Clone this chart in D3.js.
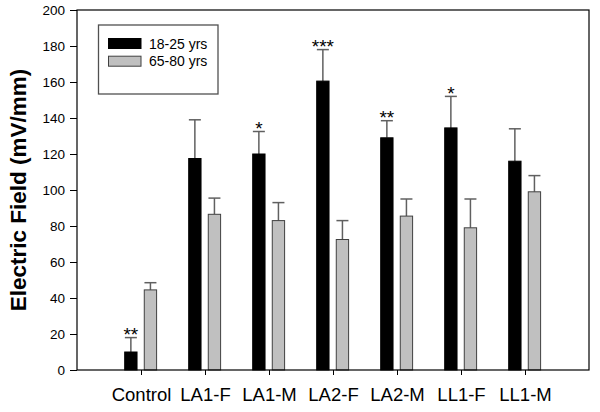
<!DOCTYPE html>
<html>
<head>
<meta charset="utf-8">
<script src="https://cdn.jsdelivr.net/npm/d3@7"></script>
<style>
    body { margin: 0; background: #fff; }
    svg text { font-family: Arial, "Liberation Sans", sans-serif; }
</style>
</head>
<body>
<svg id="chart" width="600" height="412"></svg>
<script>
var categories = ["Control", "LA1-F", "LA1-M", "LA2-F", "LA2-M", "LL1-F", "LL1-M"];
var seriesNames = ["18-25 yrs", "65-80 yrs"];
var young = [10, 117.5, 120, 160.5, 129, 134.5, 116];
var youngErr = [8, 21.5, 12.5, 17.5, 9.5, 17.5, 18];
var old = [44.5, 86.5, 83, 72.5, 85.5, 79, 99];
var oldErr = [4, 9, 10, 10.5, 9.5, 16, 9];
var stars = ["**", "", "*", "***", "**", "*", ""];
var yTicks = [0, 20, 40, 60, 80, 100, 120, 140, 160, 180, 200];

function drawChart() {
    var svg = d3.select("#chart"),
        margins = { top: 10, right: 11, bottom: 42, left: 77 },
        width = 600, height = 412,
        xRange = d3.scalePoint().domain(categories)
            .range([margins.left, width - margins.right]).padding(1),
        sub = d3.scaleBand().domain([0, 1]).range([-16.3, 15.6]).paddingInner(0.37),
        yRange = d3.scaleLinear().domain([0, 200])
            .range([height - margins.bottom, margins.top]),
        fills = ["#000000", "#c0c0c0"],
        strokes = ["#000000", "#404040"];

    var rows = [];
    categories.forEach(function (c, i) {
        rows.push({ cat: c, s: 0, v: young[i], e: youngErr[i] });
        rows.push({ cat: c, s: 1, v: old[i], e: oldErr[i] });
    });

    // error bars first, behind the bars
    var err = svg.append("g").attr("stroke", "#606060").attr("stroke-width", 1.5);
    rows.forEach(function (d) {
        var cx = xRange(d.cat) + sub(d.s) + sub.bandwidth() / 2;
        err.append("line").attr("x1", cx).attr("x2", cx)
            .attr("y1", yRange(d.v)).attr("y2", yRange(d.v + d.e));
        err.append("line").attr("x1", cx - 6).attr("x2", cx + 6)
            .attr("y1", yRange(d.v + d.e)).attr("y2", yRange(d.v + d.e));
    });

    svg.append("g").selectAll("rect").data(rows).enter().append("rect")
        .attr("x", function (d) { return xRange(d.cat) + sub(d.s); })
        .attr("width", sub.bandwidth())
        .attr("y", function (d) { return yRange(d.v); })
        .attr("height", function (d) { return yRange(0) - yRange(d.v); })
        .attr("fill", function (d) { return fills[d.s]; })
        .attr("stroke", function (d) { return strokes[d.s]; })
        .attr("stroke-width", 1);

    svg.append("g").selectAll("text").data(categories).enter().append("text")
        .attr("x", function (d) { return xRange(d) + sub(0) + sub.bandwidth() / 2; })
        .attr("y", function (d, i) { return yRange(young[i] + youngErr[i]) + 3.5; })
        .attr("text-anchor", "middle")
        .style("font-size", "19px")
        .text(function (d, i) { return stars[i]; });

    // frame
    svg.append("rect")
        .attr("x", margins.left).attr("y", margins.top)
        .attr("width", width - margins.right - margins.left)
        .attr("height", height - margins.bottom - margins.top)
        .attr("fill", "none").attr("stroke", "#000").attr("stroke-width", 1.2);

    var yAxis = d3.axisLeft(yRange).tickValues(yTicks).tickSize(7).tickPadding(5);
    var gy = svg.append("g")
        .attr("transform", "translate(" + margins.left + ",0)")
        .call(yAxis);
    gy.select(".domain").remove();
    gy.selectAll("text").style("font-size", "13.5px").attr("fill", "#000");

    var xAxis = d3.axisBottom(xRange).tickSize(5).tickPadding(13);
    var gx = svg.append("g")
        .attr("transform", "translate(0," + (height - margins.bottom) + ")")
        .call(xAxis);
    gx.select(".domain").remove();
    gx.selectAll("text").style("font-size", "18.5px").attr("fill", "#000");

    svg.append("text")
        .attr("transform", "translate(26," + ((margins.top + height - margins.bottom) / 2) + ") rotate(-90)")
        .attr("text-anchor", "middle")
        .style("font-size", "22.5px")
        .style("font-weight", "bold")
        .text("Electric Field (mV/mm)");

    // legend
    var lg = svg.append("g");
    lg.append("rect").attr("x", 98.5).attr("y", 25).attr("width", 119.5).attr("height", 69)
        .attr("fill", "#fff").attr("stroke", "#505050").attr("stroke-width", 1.3);
    seriesNames.forEach(function (n, i) {
        lg.append("rect").attr("x", 108.5).attr("y", 38.5 + i * 17.7)
            .attr("width", 32.5).attr("height", 10)
            .attr("fill", fills[i]).attr("stroke", strokes[i]);
        lg.append("text").attr("x", 149).attr("y", 48.5 + i * 17.7)
            .style("font-size", "14px").text(n);
    });
}

drawChart();
</script>
</body>
</html>
